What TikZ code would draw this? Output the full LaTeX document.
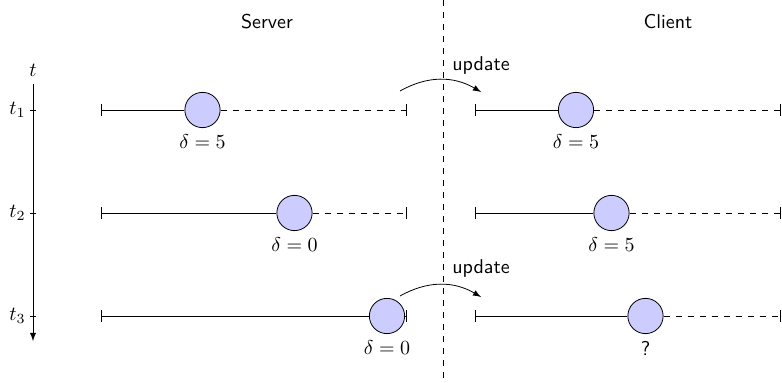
\documentclass[tikz,border=0pt]{standalone}
\usepackage{amsmath}
\usepackage{amssymb}
\usepackage{tikz}
\usetikzlibrary{calc}
\usetikzlibrary{positioning}

\tikzset{
    ball/.style={circle, draw, fill=blue!20, minimum size=0.62cm, inner sep=0pt},
    side/.style={font=\sffamily},
}

\begin{document}
\begin{tikzpicture}[x=0.5pt,y=-0.5pt]
            % Define the rows of the time steps
            \def\ya{110}  % row of t_1
            \def\yb{213}  % row of t_2
            \def\yc{316}  % row of t_3
            \def\sl{101}  % start of server line
            \def\se{407}  % end of server line
            \def\cl{475}  % start of client line
            \def\ce{781}  % end of client line

            \useasboundingbox (0,0) rectangle (782,383);

            % Calculate the coordinates of the points
            \coordinate (S1) at (\sl,\ya);
            \coordinate (S2) at (\sl,\yb);
            \coordinate (S3) at (\sl,\yc);
            \coordinate (S1e) at (\se,\ya);
            \coordinate (S2e) at (\se,\yb);
            \coordinate (S3e) at (\se,\yc);
            \coordinate (C1) at (\cl,\ya);
            \coordinate (C2) at (\cl,\yb);
            \coordinate (C3) at (\cl,\yc);
            \coordinate (C1e) at (\ce,\ya);
            \coordinate (C2e) at (\ce,\yb);
            \coordinate (C3e) at (\ce,\yc);

            % Headings and separation line
            \node[side] (server) at (267,22) {Server};
            \node[side] (client) at (668,22) {Client};
            \coordinate (M0) at (443,0);
            \coordinate (M1) at (443,383);
            \draw[dashed] (M0) -- (M1);

            % Draw the time axis
            \coordinate (A0) at (33,84);
            \coordinate (A1) at (33,341);
            \draw[-latex] (A0) -- (A1);
            \node (t) at (33,70) {$t$};
            \draw ($(A0|-S1)+(-3,0)$) -- ++(6,0) node[pos=0,left,inner sep=2pt] (T1) {$t_1$};
            \draw ($(A0|-S2)+(-3,0)$) -- ++(6,0) node[pos=0,left,inner sep=2pt] (T2) {$t_2$};
            \draw ($(A0|-S3)+(-3,0)$) -- ++(6,0) node[pos=0,left,inner sep=2pt] (T3) {$t_3$};

            % Draw the positions on the server
            \node[ball] (SP1) at (202.5,\ya) {};
            \node[ball] (SP2) at (294.5,\yb) {};
            \node[ball] (SP3) at (387,\yc) {};
            \draw[|-] (S1) -- (SP1);
            \draw[dashed,-|] (SP1) -- (S1e);
            \draw[|-] (S2) -- (SP2);
            \draw[dashed,-|] (SP2) -- (S2e);
            \draw[|-] (S3) -- (SP3);
            \draw[-|] (SP3) -- (S3e);
            \node[below=0pt of SP1] (SD1) {$\delta = 5$};
            \node[below=0pt of SP2] (SD2) {$\delta = 0$};
            \node[below=0pt of SP3] (SD3) {$\delta = 0$};

            % Draw the positions on the client
            \node[ball] (CP1) at (576,\ya) {};
            \node[ball] (CP2) at (611.5,\yb) {};
            \node[ball] (CP3) at (645.5,\yc) {};
            \draw[|-] (C1) -- (CP1);
            \draw[dashed,-|] (CP1) -- (C1e);
            \draw[|-] (C2) -- (CP2);
            \draw[dashed,-|] (CP2) -- (C2e);
            \draw[|-] (C3) -- (CP3);
            \draw[dashed,-|] (CP3) -- (C3e);
            \node[below=0pt of CP1] (CD1) {$\delta = 5$};
            \node[below=0pt of CP2] (CD2) {$\delta = 5$};
            \node[below=0pt of CP3,side] (CD3) {?};

            % Draw the updates
            \coordinate (U1a) at (400,91);
            \coordinate (U1b) at (481,92);
            \coordinate (U3a) at (400,296);
            \coordinate (U3b) at (481,297);
            \draw[-latex] (U1a) to[bend left=30] (U1b);
            \draw[-latex] (U3a) to[bend left=30] (U3b);
            \node[side] (upd1) at (481,66) {update};
            \node[side] (upd3) at (481,269) {update};

        \end{tikzpicture}
\end{document}
